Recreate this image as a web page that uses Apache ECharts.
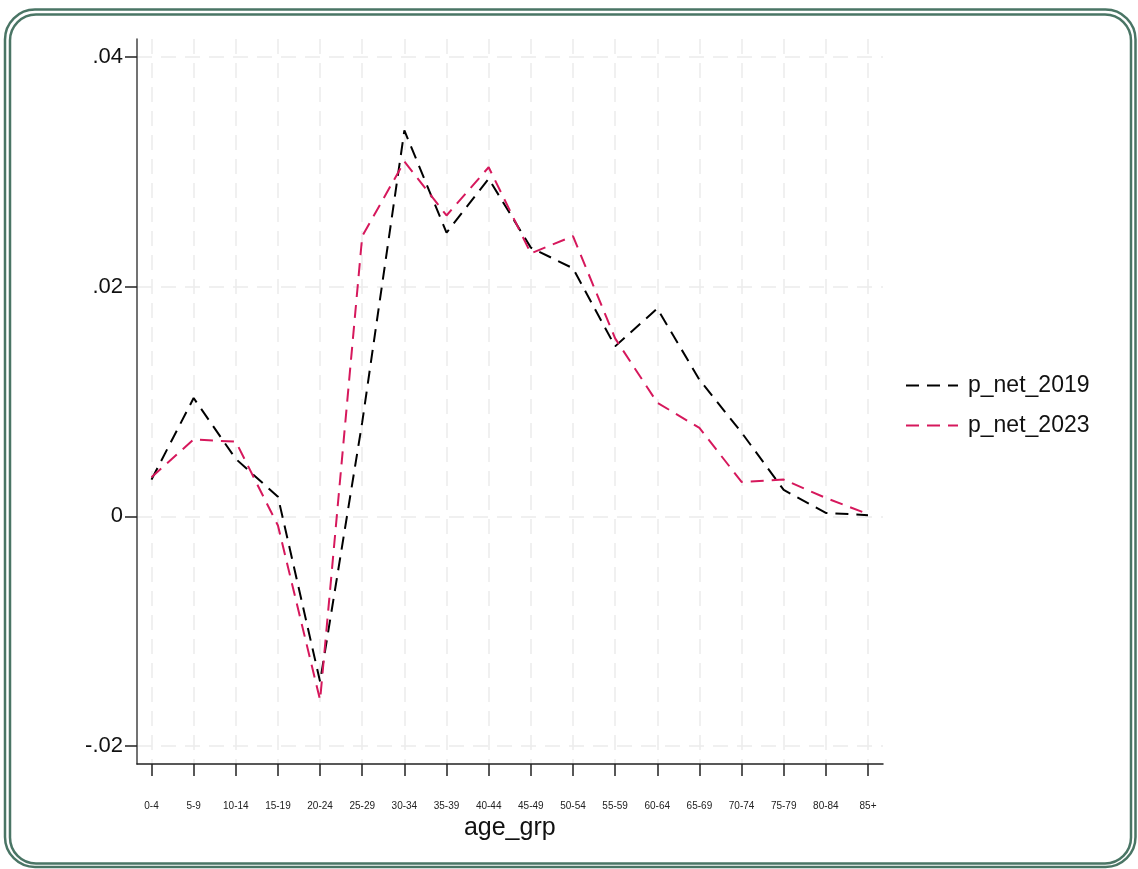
<!DOCTYPE html>
<html>
<head>
<meta charset="utf-8">
<script src="https://cdn.jsdelivr.net/npm/echarts@6/dist/echarts.min.js"></script>
<style>
  html, body { margin:0; padding:0; background:#fff; }
  #chart { width:1138px; height:869px; }
</style>
</head>
<body>
<div id="chart"></div>
<script>
// ─── data ────────────────────────────────────────────
var ageGroups=['0-4','5-9','10-14','15-19','20-24','25-29','30-34','35-39','40-44','45-49',
  '50-54','55-59','60-64','65-69','70-74','75-79','80-84','85+'];
var pNet2019=[0.0032,0.0103,0.0050,0.0017,-0.0144,0.0082,0.0336,0.0247,0.0294,0.0234,
  0.0216,0.0148,0.0181,0.0119,0.0073,0.0023,0.0003,0.0001];
var pNet2023=[0.0034,0.0067,0.0065,-0.0008,-0.0160,0.0244,0.0309,0.0262,0.0304,0.0229,
  0.0244,0.0155,0.0099,0.0077,0.0030,0.0032,0.0016,0.0002];
var yTicks={min:-0.02,max:0.04,step:0.02};

var SANS="'Liberation Sans',Arial,sans-serif";
var gridDash={color:'#ebebeb',width:1.5,type:[15,9]};
var seriesDash=[13,8];

var chart=echarts.init(document.getElementById('chart'));
chart.setOption({
  animation:false,
  backgroundColor:'#fff',
  // frame: outer box (axis lines), y labels box, x labels box, data box
  grid:[
    {left:137,top:39,width:746,height:725},
    {left:137,top:57,width:746,height:689},
    {left:151.5,top:39,width:716.5,height:725},
    {left:151.5,top:57,width:716.5,height:689}
  ],
  xAxis:[
    {gridIndex:0,type:'value',min:0,max:1,axisLine:{show:true,lineStyle:{color:'#222',width:1.5}},
      axisTick:{show:false},axisLabel:{show:false},splitLine:{show:false}},
    {gridIndex:1,type:'value',show:false},
    {gridIndex:2,type:'category',data:ageGroups,boundaryGap:false,
      axisLine:{show:false},
      axisTick:{show:true,length:12,lineStyle:{color:'#222',width:1.5}},
      axisLabel:{margin:37,fontFamily:SANS,fontSize:10,color:'#222'},
      splitLine:{show:true,lineStyle:gridDash},
      name:'age_grp',nameLocation:'middle',nameGap:44,
      nameTextStyle:{fontFamily:SANS,fontSize:25,color:'#111'}},
    {gridIndex:3,type:'category',data:ageGroups,boundaryGap:false,show:false}
  ],
  yAxis:[
    {gridIndex:0,type:'value',min:0,max:1,axisLine:{show:true,lineStyle:{color:'#444',width:1.5}},
      axisTick:{show:false},axisLabel:{show:false},splitLine:{show:false}},
    {gridIndex:1,type:'value',min:yTicks.min,max:yTicks.max,interval:yTicks.step,
      axisLine:{show:false},
      axisTick:{show:true,length:12,lineStyle:{color:'#222',width:1.5}},
      axisLabel:{margin:14,fontFamily:SANS,fontSize:22,color:'#111',
        formatter:function(v){ if (Math.abs(v)<1e-9) return '0'; return v.toFixed(2).replace('0.','.'); }},
      splitLine:{show:true,lineStyle:gridDash}},
    {gridIndex:2,type:'value',show:false},
    {gridIndex:3,type:'value',min:yTicks.min,max:yTicks.max,show:false}
  ],
  legend:{
    orient:'vertical',left:900,top:369,itemWidth:52,itemHeight:14,itemGap:17,
    itemStyle:{opacity:0},
    textStyle:{fontFamily:SANS,fontSize:23,color:'#111',padding:[0,0,0,5]},
    data:['p_net_2019','p_net_2023']
  },
  series:[
    {name:'p_net_2019',type:'line',xAxisIndex:3,yAxisIndex:3,data:pNet2019,symbol:'none',
      lineStyle:{color:'#000',width:2,type:seriesDash},itemStyle:{color:'#000'}},
    {name:'p_net_2023',type:'line',xAxisIndex:3,yAxisIndex:3,data:pNet2023,symbol:'none',
      lineStyle:{color:'#d6185c',width:2,type:seriesDash},itemStyle:{color:'#d6185c'}}
  ],
  graphic:[
    {type:'rect',shape:{x:5,y:9.5,width:1130.5,height:857.5,r:30},silent:true,
      style:{fill:'none',stroke:'#4a7565',lineWidth:2.5}},
    {type:'rect',shape:{x:10,y:14.5,width:1121,height:849,r:26},silent:true,
      style:{fill:'none',stroke:'#4a7565',lineWidth:2.5}}
  ]
});
</script>
</body>
</html>
